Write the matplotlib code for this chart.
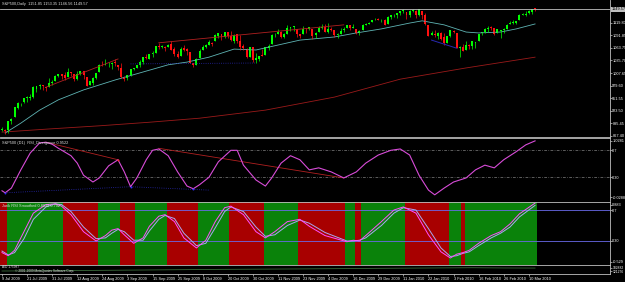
import matplotlib
matplotlib.use("Agg")
import matplotlib.pyplot as plt
import matplotlib.transforms as mtransforms
import numpy as np

plt.rcParams['font.family'] = ['Liberation Sans', 'DejaVu Sans']

# S&P500 daily candles, 9 Jul 2009 .. 12 Mar 2010 (one value per bar)
opens = [
    881, 880, 880, 900, 910, 930, 940, 942, 951, 953,
    955, 972, 979, 981, 977, 976, 986, 990, 1001, 1005,
    1004, 999, 1009, 1005, 995, 1006, 1012, 999, 980, 986,
    996, 1010, 1026, 1026, 1027, 1027, 1032, 1025, 1019, 997,
    997, 1003, 1016, 1018, 1025, 1032, 1044, 1040, 1049, 1053,
    1067, 1066, 1066, 1066, 1072, 1062, 1050, 1045, 1063, 1061,
    1054, 1029, 1026, 1042, 1060, 1065, 1071, 1074, 1078, 1090,
    1094, 1088, 1098, 1091, 1080, 1095, 1080, 1067, 1061, 1044,
    1065, 1037, 1040, 1048, 1047, 1064, 1072, 1092, 1094, 1098,
    1088, 1095, 1108, 1110, 1106, 1094, 1095, 1106, 1106, 1105,
    1092, 1098, 1109, 1110, 1100, 1105, 1103, 1092, 1095, 1104,
    1107, 1114, 1108, 1106, 1097, 1104, 1115, 1118, 1122, 1127,
    1128, 1125, 1126, 1117, 1133, 1136, 1136, 1141, 1146, 1143,
    1137, 1146, 1147, 1136, 1147, 1138, 1115, 1092, 1095, 1091,
    1097, 1087, 1074, 1091, 1101, 1097, 1064, 1066, 1060, 1069,
    1067, 1075, 1080, 1096, 1099, 1105, 1110, 1107, 1096, 1101,
    1103, 1106, 1117, 1119, 1119, 1125, 1138, 1137, 1141, 1144,
    1151.85]
highs = [
    887, 883, 901, 907, 933, 943, 941, 951, 956, 960,
    979, 979, 983, 982, 977, 996, 993, 1003, 1006, 1006,
    1009, 1018, 1011, 1006, 1013, 1013, 1012, 999, 991, 999,
    1008, 1027, 1035, 1038, 1032, 1033, 1039, 1026, 1029, 1000,
    1004, 1016, 1019, 1026, 1036, 1044, 1049, 1049, 1056, 1068,
    1074, 1071, 1067, 1073, 1080, 1066, 1056, 1065, 1070, 1063,
    1054, 1031, 1042, 1061, 1071, 1073, 1081, 1076, 1094, 1096,
    1094, 1099, 1099, 1101, 1095, 1095, 1092, 1073, 1063, 1066,
    1066, 1052, 1046, 1062, 1066, 1072, 1094, 1096, 1105, 1101,
    1097, 1114, 1111, 1112, 1106, 1094, 1113, 1109, 1111, 1105,
    1098, 1112, 1117, 1118, 1120, 1111, 1103, 1097, 1108, 1110,
    1115, 1114, 1117, 1106, 1103, 1117, 1119, 1121, 1126, 1130,
    1130, 1127, 1128, 1134, 1137, 1140, 1142, 1145, 1150, 1143,
    1148, 1150, 1148, 1150, 1147, 1141, 1115, 1102, 1103, 1099,
    1099, 1097, 1090, 1104, 1103, 1097, 1067, 1072, 1080, 1073,
    1080, 1077, 1095, 1100, 1108, 1112, 1112, 1108, 1106, 1103,
    1107, 1116, 1123, 1125, 1123, 1139, 1142, 1145, 1148, 1151,
    1153.35]
lows = [
    878, 872, 875, 895, 910, 927, 934, 940, 944, 947,
    953, 965, 971, 969, 968, 976, 982, 990, 998, 994,
    992, 999, 1002, 991, 993, 1003, 994, 978, 980, 980,
    994, 1009, 1023, 1026, 1021, 1016, 1023, 1015, 996, 991,
    993, 1002, 1014, 1018, 1022, 1028, 1039, 1038, 1043, 1053,
    1062, 1064, 1057, 1066, 1060, 1045, 1041, 1045, 1057, 1047,
    1029, 1020, 1025, 1042, 1060, 1063, 1070, 1069, 1078, 1086,
    1082, 1086, 1085, 1080, 1074, 1075, 1060, 1060, 1042, 1044,
    1033, 1029, 1034, 1045, 1047, 1060, 1072, 1087, 1094, 1085,
    1085, 1095, 1102, 1102, 1089, 1086, 1095, 1097, 1104, 1083,
    1086, 1098, 1106, 1098, 1096, 1101, 1088, 1085, 1095, 1100,
    1107, 1104, 1108, 1095, 1093, 1104, 1114, 1116, 1121, 1125,
    1126, 1122, 1115, 1117, 1129, 1133, 1131, 1136, 1141, 1128,
    1133, 1144, 1131, 1135, 1129, 1114, 1090, 1092, 1089, 1084,
    1081, 1071, 1074, 1087, 1096, 1063, 1044, 1056, 1060, 1062,
    1061, 1063, 1080, 1093, 1097, 1100, 1104, 1092, 1096, 1086,
    1097, 1106, 1116, 1116, 1116, 1125, 1137, 1134, 1140, 1140,
    1146.56]
closes = [
    882, 879, 901, 905, 932, 940, 940, 951, 954, 954,
    976, 979, 982, 979, 975, 986, 987, 1002, 1005, 1002,
    997, 1010, 1007, 994, 1005, 1012, 1004, 979, 990, 996,
    1007, 1026, 1025, 1028, 1028, 1031, 1029, 1021, 998, 995,
    1003, 1016, 1018, 1025, 1033, 1044, 1042, 1049, 1053, 1068,
    1065, 1068, 1064, 1071, 1060, 1050, 1044, 1062, 1060, 1057,
    1029, 1025, 1040, 1057, 1065, 1071, 1076, 1073, 1092, 1096,
    1087, 1098, 1091, 1081, 1092, 1079, 1066, 1063, 1043, 1066,
    1036, 1042, 1045, 1046, 1066, 1069, 1093, 1093, 1099, 1088,
    1094, 1109, 1110, 1110, 1094, 1091, 1106, 1105, 1110, 1091,
    1096, 1109, 1109, 1099, 1105, 1104, 1092, 1095, 1102, 1106,
    1114, 1107, 1109, 1096, 1102, 1114, 1118, 1120, 1126, 1127,
    1126, 1126, 1115, 1133, 1137, 1137, 1142, 1145, 1147, 1137,
    1146, 1148, 1136, 1150, 1138, 1116, 1091, 1096, 1092, 1097,
    1084, 1074, 1090, 1104, 1098, 1064, 1066, 1056, 1071, 1068,
    1078, 1075, 1095, 1099, 1106, 1109, 1108, 1094, 1105, 1102,
    1105, 1115, 1118, 1119, 1123, 1138, 1138, 1140, 1145, 1150,
    1149.57]

date_labels = ["9 Jul 2009", "21 Jul 2009", "31 Jul 2009", "12 Aug 2009", "24 Aug 2009",
               "3 Sep 2009", "15 Sep 2009", "25 Sep 2009", "8 Oct 2009", "20 Oct 2009",
               "30 Oct 2009", "11 Nov 2009", "23 Nov 2009", "4 Dec 2009", "16 Dec 2009",
               "29 Dec 2009", "11 Jan 2010", "22 Jan 2010", "3 Feb 2010", "16 Feb 2010",
               "26 Feb 2010", "10 Mar 2010"]
date_idx = list(range(0, 169, 8))

price_ticks = [1119.80, 1091.85, 1063.75, 1035.70, 1007.65, 979.60, 951.55, 923.50, 895.45, 867.40]

# moving averages (bar index, price)
ma_fast_idx = [1, 6, 12, 18, 26, 36, 47, 53, 59, 66, 74, 81, 88, 95, 106, 113, 121, 130, 134, 141, 148, 152, 159, 164, 170]
ma_fast_val = [874, 896, 925, 948, 970, 992, 1014, 1026, 1032, 1043, 1061, 1059, 1070, 1081, 1088, 1097, 1106, 1119, 1124, 1115, 1099, 1097, 1099, 1106, 1117]
ma_slow_idx = [0, 15, 31, 47, 63, 84, 106, 127, 148, 170]
ma_slow_val = [876, 883, 890, 898, 907, 925, 954, 994, 1019, 1043]

# RSI divergence panel
rsi_idx = [0, 1, 3, 6, 9, 12, 14, 16, 18, 22, 24, 26, 29, 31, 34, 37, 39, 41, 43, 46,
           48, 50, 53, 56, 59, 61, 63, 66, 69, 73, 75, 77, 81, 84, 86, 89, 92, 95, 98, 101,
           105, 109, 113, 116, 120, 124, 127, 130, 133, 136, 138, 141, 144, 148, 151, 154, 157, 160, 164, 167, 170]
rsi_val = [0.10, 0.07, 0.14, 0.41, 0.66, 0.81, 0.82, 0.79, 0.73, 0.62, 0.51, 0.33, 0.23, 0.29, 0.47, 0.56, 0.38, 0.16, 0.29, 0.56,
           0.70, 0.72, 0.62, 0.38, 0.17, 0.13, 0.19, 0.30, 0.53, 0.70, 0.70, 0.48, 0.26, 0.17, 0.29, 0.51, 0.62, 0.56, 0.41, 0.44,
           0.38, 0.29, 0.38, 0.51, 0.63, 0.70, 0.72, 0.63, 0.33, 0.11, 0.04, 0.14, 0.23, 0.29, 0.41, 0.48, 0.44, 0.56, 0.68, 0.78, 0.84]
rsi_ticks = [0.842, 0.7, 0.3, 0.004]
rsi_tick_labels = ["1.0281", "0.7", "0.30", "-0.0288"]
rsi_peaks = [37]
rsi_troughs = [1, 41, 61]

# divergence lines: (start idx, start val, end idx, end val)
price_bear_lines = [(14, 976, 37, 1039), (50, 1075, 109, 1115)]
price_bull_lines = [(41, 1028, 81, 1030)]
price_bull_solid = [(137, 1081, 145, 1063)]
rsi_bear_lines = [(14, 0.82, 37, 0.56), (50, 0.73, 109, 0.29)]
rsi_bull_lines = [(1, 0.07, 41, 0.16), (41, 0.16, 66, 0.11)]

# Jurik RSI smoothed
jr_idx = [0, 2, 4, 7, 10, 14, 17, 19, 22, 26, 30, 33, 35, 37, 39, 42, 45, 47, 50, 52,
          55, 58, 62, 65, 68, 71, 73, 77, 81, 84, 87, 91, 95, 98, 103, 110, 112, 114, 116, 121,
          125, 128, 132, 136, 140, 143, 145, 147, 149, 152, 156, 159, 162, 165, 170]
jr_fast = [0.15, 0.11, 0.18, 0.42, 0.66, 0.77, 0.78, 0.75, 0.64, 0.42, 0.30, 0.37, 0.44, 0.46, 0.38, 0.27, 0.34, 0.49, 0.62, 0.64,
           0.55, 0.34, 0.21, 0.31, 0.55, 0.73, 0.75, 0.64, 0.42, 0.34, 0.42, 0.55, 0.58, 0.49, 0.37, 0.29, 0.31, 0.30, 0.37, 0.55,
           0.70, 0.74, 0.66, 0.38, 0.16, 0.08, 0.13, 0.15, 0.18, 0.27, 0.37, 0.42, 0.52, 0.65, 0.79]
jr_slow = [0.17, 0.12, 0.15, 0.33, 0.58, 0.74, 0.78, 0.77, 0.68, 0.48, 0.33, 0.34, 0.40, 0.45, 0.42, 0.31, 0.31, 0.43, 0.58, 0.63,
           0.59, 0.40, 0.24, 0.27, 0.47, 0.68, 0.74, 0.68, 0.48, 0.36, 0.38, 0.50, 0.57, 0.53, 0.41, 0.30, 0.30, 0.31, 0.34, 0.50,
           0.66, 0.73, 0.70, 0.46, 0.21, 0.10, 0.11, 0.14, 0.16, 0.24, 0.34, 0.40, 0.48, 0.61, 0.76]
# bars where the trend colour switches, starting red
jr_switch = [0, 2, 20, 31, 38, 43, 53, 63, 73, 84, 95, 110, 113, 115, 129, 143, 147, 148, 171]
jr_ticks = [0.765, 0.7, 0.3, 0.029]
jr_tick_labels = ["0.883", "0.7", "0.30", "-0.529"]

# bottom A/D panel
ad_idx = [0, 20, 45, 70, 95, 120, 150, 160, 170]
ad_val = [121276, 128000, 140000, 152000, 160000, 171000, 182882, 178000, 175987]
ad_ticks = [182882, 121276]

W, H = 625, 282
fig = plt.figure(figsize=(W / 100, H / 100), dpi=100, facecolor='black')
FS = 2.8
GREY = '#c0c0c0'


def panel(top, bottom):
    ax = fig.add_axes([0, 1 - bottom / H, 610 / W, (bottom - top) / H])
    ax.set_facecolor('black')
    ax.set_xlim(-0.64, 193.9)
    for s in ax.spines.values():
        s.set_color(GREY)
        s.set_linewidth(0.6)
    ax.spines['left'].set_visible(False)
    ax.yaxis.tick_right()
    ax.tick_params(axis='y', colors='white', labelsize=FS, length=1.2, width=0.4, pad=0.5)
    ax.tick_params(axis='x', bottom=False, labelbottom=False)
    return ax


# main price panel
ax = panel(0, 137)
ax.spines['top'].set_visible(False)
ax.set_ylim(865.1, 1170.4)
ax.set_yticks(price_ticks, [f"{p:.2f}" for p in price_ticks])

idx = np.arange(len(closes))
o = np.array(opens)
c = np.array(closes)
col = np.where(c >= o, '#00ff00', '#ff1010')
ax.plot(ma_slow_idx, ma_slow_val, color='#9a1a1a', lw=0.6)
ax.plot(ma_fast_idx, ma_fast_val, color='#5fb4b4', lw=0.6)
ax.vlines(idx, lows, highs, colors=col, lw=0.5)
ax.bar(idx, np.maximum(np.abs(c - o), 1.5), bottom=np.minimum(o, c), width=0.62, color=col, linewidth=0)
for x0, y0, x1, y1 in price_bear_lines:
    ax.plot([x0, x1], [y0, y1], color='#b02020', lw=0.6)
for x0, y0, x1, y1 in price_bull_lines:
    ax.plot([x0, x1], [y0, y1], color='#2828b0', lw=0.6, ls=':')
for x0, y0, x1, y1 in price_bull_solid:
    ax.plot([x0, x1], [y0, y1], color='#2828b0', lw=0.7)

ax.axhline(closes[-1], color=GREY, lw=0.6)
trans = mtransforms.blended_transform_factory(ax.transAxes, ax.transData)
ax.text(1.003, closes[-1], f"{closes[-1]:.2f}", transform=trans, fontsize=FS, color='black',
        va='center', ha='left', bbox=dict(fc=GREY, ec='none', pad=0.3))
ax.text(0.004, 0.97, "S&P500,Daily  1151.85 1153.35 1146.56 1149.57", transform=ax.transAxes,
        fontsize=FS, color='#e0e0e0', va='center', ha='left')

# RSI divergence panel
ax2 = panel(137.5, 201.5)
ax2.set_ylim(-0.059, 0.890)
ax2.set_yticks(rsi_ticks, rsi_tick_labels)
for lv in (0.7, 0.3):
    ax2.axhline(lv, color='#808080', lw=0.5, ls=(0, (4, 2, 1, 2)))
for x0, y0, x1, y1 in rsi_bull_lines:
    ax2.plot([x0, x1], [y0, y1], color='#2828b0', lw=0.6, ls=':')
for x0, y0, x1, y1 in rsi_bear_lines:
    ax2.plot([x0, x1], [y0, y1], color='#b02020', lw=0.6)
ax2.plot(rsi_idx, rsi_val, color='#d84cd8', lw=0.8)
ax2.scatter(rsi_peaks, [rsi_val[rsi_idx.index(i)] for i in rsi_peaks], s=2, color='#ff2020', zorder=5, lw=0)
ax2.scatter(rsi_troughs, [rsi_val[rsi_idx.index(i)] for i in rsi_troughs], s=2, color='#3030ff', zorder=5, lw=0)
ax2.text(0.004, 0.92, "S&P500 (D1)  RSI_Divergence 0.9522", transform=ax2.transAxes,
         fontsize=FS, color='#e0e0e0', va='center', ha='left')

# Jurik RSI panel
ax3 = panel(201.5, 265)
ax3.set_ylim(-0.010, 0.810)
ax3.set_yticks(jr_ticks, jr_tick_labels)
for k in range(len(jr_switch) - 1):
    ax3.axvspan(jr_switch[k] - 0.5, jr_switch[k + 1] - 0.5,
                color='#a80000' if k % 2 == 0 else '#0a820a', lw=0)
for lv in (0.7, 0.3):
    ax3.axhline(lv, color='#6a6ae8', lw=0.6)
ax3.plot(jr_idx, jr_slow, color='#a8a8f0', lw=0.7)
ax3.plot(jr_idx, jr_fast, color='#ff50ff', lw=0.7)
ax3.text(0.004, 0.93, "Jurik RSI Smoothed 0.8838 0.792", transform=ax3.transAxes,
         fontsize=FS, color='#e0e0e0', va='center', ha='left')

# A/D panel with date axis
ax4 = panel(265, 274)
ax4.set_ylim(65272, 233286)
ax4.set_yticks(ad_ticks, [str(v) for v in ad_ticks])
ax4.tick_params(axis='y', labelsize=FS - 0.4)
ax4.plot(ad_idx, ad_val, color='#3a6a3a', lw=0.6)
ax4.text(0.004, 0.75, "A/D 175987", transform=ax4.transAxes, fontsize=FS - 0.5,
         color='#e0e0e0', va='center', ha='left')
ax4.text(0.025, 0.3, "\u00a9 2001-2009 MetaQuotes Software Corp.", transform=ax4.transAxes,
         fontsize=FS - 0.5, color='#e0e0e0', va='center', ha='left')
ax4.tick_params(axis='x', bottom=True, labelbottom=True, colors='white', labelsize=FS,
                length=1.2, width=0.4, pad=0.8)
ax4.set_xticks(date_idx, date_labels)
for lbl in ax4.get_xticklabels():
    lbl.set_ha('left')

fig.savefig('out.png', dpi=100, facecolor='black')
